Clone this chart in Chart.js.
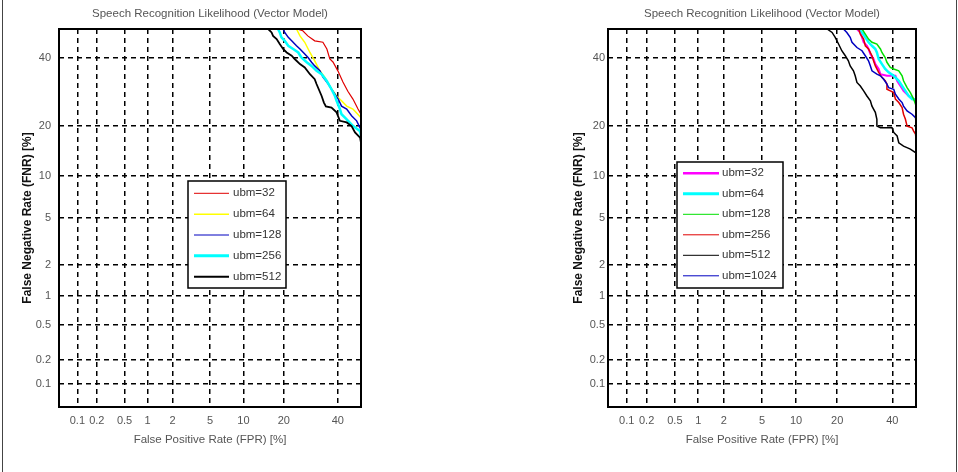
<!DOCTYPE html>
<html>
<head>
<meta charset="utf-8">
<script src="https://cdn.jsdelivr.net/npm/chart.js@4.4.1/dist/chart.umd.min.js"></script>
<style>
    body { margin: 0; background: #fff; }
    #wrap { position: relative; width: 958px; height: 472px; overflow: hidden; }
    .pane { position: absolute; top: 0; width: 479px; height: 472px; }
    .edge { position: absolute; top: 0; width: 1px; height: 472px; background: #444; }
</style>
</head>
<body>
<div id="wrap">
    <div class="pane" style="left:0"><canvas id="left" width="479" height="472"></canvas></div>
    <div class="pane" style="left:479px"><canvas id="right" width="479" height="472"></canvas></div>
    <div class="edge" style="left:2px"></div>
    <div class="edge" style="left:956px"></div>
</div>
<script>
// tick labels (in %), same on both axes
var tickVals = [0.1, 0.2, 0.5, 1, 2, 5, 10, 20, 40];
var axisMin = 0.05, axisMax = 50;

// left plot: [FPR %, FNR %]
var leftNames = ["ubm=32", "ubm=64", "ubm=128", "ubm=256", "ubm=512"];
var l32 = [[24.2,50],[26.3,49.4],[28.1,47.6],[30.7,45.9],[33.9,45.4],[35.5,43.1],[36.7,39.7],[38.0,38.7],[40.1,35.7],[42.2,32.2],[44.3,29.4],[46.5,27.1],[48.7,24.3],[50,22.9]];
var l64 = [[24.1,50],[25.3,47.6],[27.0,45.4],[28.9,41.9],[30.7,39.1],[32.7,35.8],[34.7,33.7],[36.7,31.0],[38.0,29.5],[39.5,28.0],[41.6,26.6],[43.8,25.1],[46.5,24.3],[50,22.0]];
var l128 = [[19.8,50],[20.3,48.8],[21.4,47.1],[22.5,45.9],[24.1,44.2],[25.3,43.1],[27.0,41.4],[28.2,40.2],[29.5,38.6],[30.7,37.4],[32.7,35.8],[34.0,33.7],[36.1,31.6],[37.4,30.0],[38.8,28.5],[40.2,27.1],[41.6,25.1],[43.8,24.3],[45.9,22.5],[48.1,21.2],[49.6,19.5],[50,19.2]];
var l256 = [[18.3,50],[18.8,48.8],[19.3,47.1],[20.3,45.9],[21.4,44.2],[23.0,43.1],[24.7,41.9],[25.8,40.2],[27.7,38.6],[29.5,37.4],[31.4,35.8],[33.4,34.7],[35.4,32.6],[37.4,30.0],[38.8,28.0],[39.5,26.6],[40.9,24.3],[41.6,22.9],[43.8,21.6],[46.6,19.9],[49.6,18.7],[50,17.6]];
var l512 = [[15.6,50],[16.5,48.8],[16.9,47.6],[17.9,46.5],[18.8,44.8],[19.8,43.1],[20.9,41.9],[22.5,40.8],[23.5,39.7],[25.3,38.0],[27.0,36.9],[28.9,34.7],[30.7,33.1],[31.4,31.6],[33.4,28.0],[34.3,26.1],[35.1,25.0],[37.4,24.7],[39.5,23.4],[40.9,21.2],[43.8,20.8],[45.9,19.9],[47.4,18.4],[49.6,17.2],[50,16.1]];

// right plot
var rightNames = ["ubm=32", "ubm=64", "ubm=128", "ubm=256", "ubm=512", "ubm=1024"];
var r32 = [[26.4,50],[27.6,48.8],[28.2,47.1],[28.8,45.4],[30.0,44.2],[30.6,43.1],[31.3,41.4],[32.5,39.7],[33.2,38.0],[34.5,36.4],[35.2,34.7],[37.8,34.2],[41.3,34.2],[42.0,32.6],[43.4,31.0],[44.7,29.5],[46.9,28.0],[49.0,27.1],[50,26.9]];
var r64 = [[27.0,50],[28.2,48.8],[29.4,47.1],[30.6,45.4],[31.9,44.2],[33.2,43.1],[33.8,41.9],[34.5,39.7],[35.8,38.0],[37.1,36.4],[38.5,35.3],[40.6,34.2],[42.7,32.6],[44.1,31.0],[45.5,29.5],[46.9,28.0],[48.3,27.1],[50,26.9]];
var r128 = [[28.2,50],[29.4,48.2],[30.6,46.5],[31.9,45.4],[33.8,44.8],[35.2,43.1],[35.8,41.9],[37.1,40.2],[37.8,38.6],[39.2,36.9],[40.6,36.4],[42.7,35.8],[44.1,34.2],[44.7,32.6],[46.2,30.5],[47.6,29.0],[49.0,27.1],[49.8,25.6],[50,25.1]];
var r256 = [[27.0,50],[27.6,48.2],[28.8,46.5],[29.4,44.2],[30.6,43.1],[31.9,40.8],[32.5,39.1],[33.2,37.4],[34.5,35.3],[35.8,33.7],[37.1,32.6],[37.8,31.6],[37.8,30.0],[39.2,29.5],[40.6,29.0],[41.3,27.1],[42.7,26.1],[44.1,24.7],[44.7,22.9],[45.5,21.6],[46.2,19.9],[48.3,19.5],[49.0,18.7],[49.8,18.0],[50,16.9]];
var r512 = [[17.1,50],[18.5,48.8],[19.4,47.1],[20.4,44.8],[21.4,42.5],[22.5,40.8],[23.5,39.1],[24.1,37.4],[25.2,35.8],[25.8,34.2],[26.4,32.1],[27.6,31.0],[28.8,29.5],[30.0,28.0],[31.3,26.6],[31.9,25.1],[33.2,23.4],[33.8,21.6],[33.8,19.9],[35.2,19.5],[39.9,19.5],[40.6,18.4],[42.0,17.6],[42.7,16.1],[44.7,15.4],[47.6,14.8],[49.8,14.1],[50,14.0]];
var r1024 = [[21.9,50],[23.0,48.8],[24.1,47.1],[24.7,45.4],[26.4,43.6],[28.2,42.5],[29.4,40.8],[30.6,39.1],[31.3,37.4],[31.9,35.8],[33.8,34.7],[35.2,34.2],[36.5,33.1],[37.8,31.6],[38.5,30.5],[40.6,30.0],[41.3,28.5],[42.7,27.1],[44.1,26.1],[44.7,25.1],[46.2,23.8],[48.3,22.9],[49.8,22.0],[50,20.8]];

Chart.defaults.font.family = '"Liberation Sans", Arial, sans-serif';
Chart.defaults.font.size = 11;

// inverse normal cdf (Acklam), used for the DET (normal deviate) axes
function probit(p) {
    var a = [-39.69683028665376, 220.9460984245205, -275.9285104469687, 138.3577518672690, -30.66479806614716, 2.506628277459239];
    var b = [-54.47609879822406, 161.5858368580409, -155.6989798598866, 66.80131188771972, -13.28068155288572];
    var c = [-0.007784894002430293, -0.3223964580411365, -2.400758277161838, -2.549732539343734, 4.374664141464968, 2.938163982698783];
    var d = [0.007784695709041462, 0.3224671290700398, 2.445134137142996, 3.754408661907416];
    var q, r;
    if (p < 0.02425) {
        q = Math.sqrt(-2 * Math.log(p));
        return (((((c[0]*q+c[1])*q+c[2])*q+c[3])*q+c[4])*q+c[5]) / ((((d[0]*q+d[1])*q+d[2])*q+d[3])*q+1);
    }
    if (p > 1 - 0.02425) return -probit(1 - p);
    q = p - 0.5; r = q * q;
    return (((((a[0]*r+a[1])*r+a[2])*r+a[3])*r+a[4])*r+a[5])*q / (((((b[0]*r+b[1])*r+b[2])*r+b[3])*r+b[4])*r+1);
}

function toPts(arr) {
    return arr.map(function (p) { return { x: probit(p[0] / 100), y: probit(p[1] / 100) }; });
}

function makeSets(names, series, colors, widths) {
    return names.map(function (n, i) {
        return {
            label: n,
            data: toPts(series[i]),
            borderColor: colors[i],
            borderWidth: widths[i],
            pointRadius: 0,
            tension: 0,
            fill: false,
            order: names.length - i
        };
    });
}

// frame + legend box drawn inside the plot
var boxPlugin = {
    id: "boxLegend",
    afterDatasetsDraw: function (chart, args, opts) {
        var ctx = chart.ctx, a = chart.chartArea;
        ctx.save();
        ctx.strokeStyle = "#000";
        ctx.lineWidth = 2;
        ctx.strokeRect(a.left, a.top, a.right - a.left, a.bottom - a.top);

        var x = a.left + opts.dx, y = a.top + opts.dy;
        ctx.fillStyle = "#fff";
        ctx.fillRect(x, y, opts.w, opts.h);
        ctx.lineWidth = 1.5;
        ctx.strokeRect(x, y, opts.w, opts.h);
        ctx.font = '11.5px "Liberation Sans", Arial, sans-serif';
        ctx.textBaseline = "middle";
        chart.data.datasets.forEach(function (ds, i) {
            var ry = y + opts.first + i * opts.step;
            ctx.strokeStyle = ds.borderColor;
            ctx.lineWidth = opts.lw[i];
            ctx.beginPath();
            ctx.moveTo(x + opts.l0, ry);
            ctx.lineTo(x + opts.l1, ry);
            ctx.stroke();
            ctx.fillStyle = "#333";
            ctx.fillText(ds.label, x + opts.tx, ry);
        });
        ctx.restore();
    }
};

function axisOpts(title, fit, isY, tickPad, titlePad) {
    var o = {
        type: "linear",
        min: probit(axisMin / 100),
        max: probit(axisMax / 100),
        afterBuildTicks: function (s) {
            s.ticks = tickVals.map(function (v) { return { value: probit(v / 100) }; });
        },
        afterFit: function (s) {
            if (isY) s.width = fit; else s.height = fit;
        },
        ticks: {
            color: "#555",
            padding: tickPad,
            autoSkip: false,
            maxRotation: 0,
            callback: function (v, i) { return String(tickVals[i]); }
        },
        grid: { color: "#000", lineWidth: 1.5, drawTicks: false },
        border: { display: false, dash: [5, 4] },
        title: { display: true, text: title }
    };
    if (isY) {
        o.title.color = "#111";
        o.title.font = { size: 12, weight: "bold" };
        o.title.padding = { top: titlePad, bottom: 0 };
    } else {
        o.title.color = "#555";
        o.title.font = { size: 11.5 };
        o.title.padding = { top: 0, bottom: titlePad };
    }
    return o;
}

function makeChart(id, sets, padRight, yWidth, yTickPad, yTitlePad, legend) {
    return new Chart(document.getElementById(id), {
        type: "line",
        data: { datasets: sets },
        options: {
            responsive: false,
            animation: false,
            devicePixelRatio: 1,
            layout: { padding: { left: 0, right: padRight, top: 0, bottom: 0 } },
            scales: {
                x: axisOpts("False Positive Rate (FPR) [%]", 65, false, 7, 25),
                y: axisOpts("False Negative Rate (FNR) [%]", yWidth, true, yTickPad, yTitlePad)
            },
            plugins: {
                legend: { display: false },
                tooltip: { enabled: false },
                title: {
                    display: true,
                    fullSize: false,
                    text: "Speech Recognition Likelihood (Vector Model)",
                    color: "#555",
                    font: { size: 11.5, weight: "normal" },
                    padding: { top: 7, bottom: 8.2 }
                },
                boxLegend: legend
            }
        },
        plugins: [boxPlugin]
    });
}

var leftSets = makeSets(leftNames, [l32, l64, l128, l256, l512],
    ["#e00000", "#ffff00", "#0000c0", "#00ffff", "#000000"],
    [1.2, 1.5, 1.5, 2.5, 1.8]);
var rightSets = makeSets(rightNames, [r32, r64, r128, r256, r512, r1024],
    ["#ff00ff", "#00ffff", "#00e000", "#e00000", "#000000", "#0000c0"],
    [2, 2.5, 1.5, 1.5, 1.5, 1.5]);

makeChart("left", leftSets, 118, 59, 8, 20, {
    dx: 129, dy: 152, w: 98, h: 107, first: 12.3, step: 20.85,
    l0: 6, l1: 41, tx: 45, lw: [1, 1.5, 1, 3, 2]
});
makeChart("right", rightSets, 42, 129, 3, 92, {
    dx: 69, dy: 133, w: 106, h: 126, first: 11.3, step: 20.5,
    l0: 6, l1: 42, tx: 45, lw: [2.5, 3, 1, 1, 1, 1]
});
</script>
</body>
</html>
